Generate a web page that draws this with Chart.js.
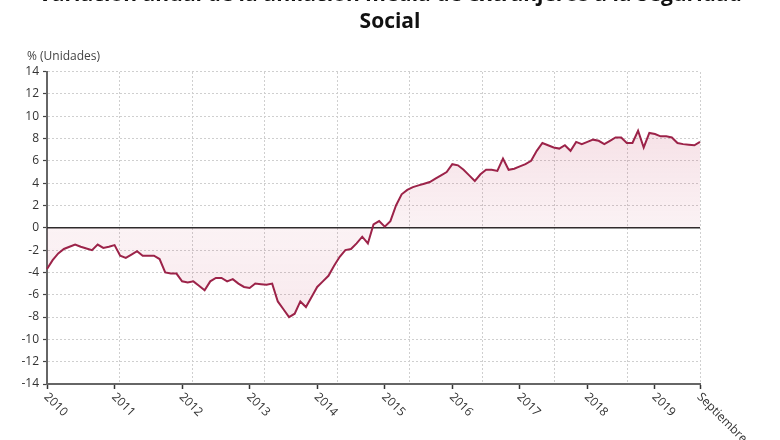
<!DOCTYPE html>
<html lang="es">
<head>
<meta charset="utf-8">
<script src="https://cdn.jsdelivr.net/npm/chart.js@4.4.0/dist/chart.umd.min.js"></script>
<style>
  html, body { margin: 0; padding: 0; background: #fff; overflow: hidden; }
  #caja { position: absolute; left: 0; top: -20px; width: 780px; height: 460px; }
</style>
</head>
<body>
<div id="caja"><canvas id="grafico"></canvas></div>
<script>
// años y meses del eje x (enero 2010 - septiembre 2019)
const anios = [2010, 2011, 2012, 2013, 2014, 2015, 2016, 2017, 2018, 2019];
const nombresMes = ['ene', 'feb', 'mar', 'abr', 'may', 'jun', 'jul', 'ago', 'sep', 'oct', 'nov', 'dic'];
const rotuloFinal = 'Septiembre';

// variación anual (%) de la afiliación media de extranjeros
const variacion = [
  -3.7, -2.9, -2.3, -1.9, -1.7, -1.5, -1.7, -1.85, -2.0, -1.5, -1.8, -1.7,
  -1.55, -2.5, -2.7, -2.4, -2.1, -2.5, -2.5, -2.5, -2.8, -4.0, -4.1, -4.1,
  -4.8, -4.9, -4.8, -5.2, -5.6, -4.8, -4.5, -4.5, -4.8, -4.6, -5.0, -5.3,
  -5.4, -5.0, -5.05, -5.1, -5.0, -6.6, -7.3, -8.0, -7.7, -6.6, -7.1, -6.2,
  -5.3, -4.8, -4.3, -3.4, -2.6, -2.0, -1.9, -1.4, -0.8, -1.4, 0.3, 0.6,
  0.1, 0.6, 2.0, 3.0, 3.4, 3.65, 3.8, 3.95, 4.1, 4.4, 4.7, 5.0,
  5.7, 5.6, 5.2, 4.7, 4.2, 4.8, 5.2, 5.2, 5.1, 6.2, 5.2, 5.3,
  5.5, 5.7, 6.0, 6.9, 7.6, 7.4, 7.2, 7.1, 7.4, 6.9, 7.7, 7.5,
  7.7, 7.9, 7.8, 7.5, 7.8, 8.1, 8.1, 7.6, 7.6, 8.7, 7.2, 8.5,
  8.4, 8.2, 8.2, 8.1, 7.6, 7.5, 7.45, 7.4, 7.7
];

const meses = [];
anios.forEach(a => nombresMes.forEach(m => meses.push(m + ' ' + a)));
meses.length = variacion.length;

function rotulo(i) {
  if (i === meses.length - 1) return rotuloFinal;
  return meses[i].startsWith('ene') ? meses[i].slice(4) : '';
}

const lineaCero = {
  id: 'lineaCero',
  beforeDatasetsDraw(chart) {
    const {ctx, chartArea, scales} = chart;
    const y = scales.y.getPixelForValue(0);
    ctx.save();
    ctx.strokeStyle = '#2b2b2b';
    ctx.lineWidth = 1.6;
    ctx.beginPath();
    ctx.moveTo(chartArea.left, y);
    ctx.lineTo(chartArea.right, y);
    ctx.stroke();
    ctx.restore();
  }
};

// rótulos del eje x girados hacia abajo y "% (Unidades)"
const textos = {
  id: 'textos',
  afterDraw(chart) {
    const {ctx, scales} = chart;
    const sx = scales.x;
    ctx.save();
    ctx.fillStyle = '#333';
    ctx.font = '12px "Open Sans"';
    ctx.textAlign = 'left';
    ctx.textBaseline = 'middle';
    sx.ticks.forEach(t => {
      const px = sx.getPixelForValue(t.value);
      ctx.save();
      ctx.translate(px - 1, sx.top + 11);
      ctx.rotate(Math.PI / 4);
      ctx.fillText(rotulo(t.value), 0, 0);
      ctx.restore();
    });
    ctx.font = '12px "Open Sans"';
    ctx.fillStyle = '#444';
    ctx.fillText('% (Unidades)', 27, 77);
    ctx.restore();
  }
};

function relleno(c) {
  const chart = c.chart;
  const area = chart.chartArea;
  if (!area) return 'rgba(190, 40, 80, 0.08)';
  const y = chart.scales.y;
  const g = chart.ctx.createLinearGradient(0, area.top, 0, area.bottom);
  const pos = v => (y.getPixelForValue(v) - area.top) / (area.bottom - area.top);
  g.addColorStop(pos(9), 'rgba(190, 40, 80, 0.14)');
  g.addColorStop(pos(0), 'rgba(190, 40, 80, 0.06)');
  g.addColorStop(pos(-8), 'rgba(190, 40, 80, 0.10)');
  return g;
}

new Chart(document.getElementById('grafico'), {
  type: 'line',
  data: {
    labels: meses,
    datasets: [{
      label: 'Variación anual',
      data: variacion,
      borderColor: '#9c2349',
      backgroundColor: relleno,
      borderWidth: 2,
      pointRadius: 0,
      tension: 0,
      fill: 'origin'
    }]
  },
  options: {
    responsive: true,
    maintainAspectRatio: false,
    animation: false,
    layout: { padding: { left: 0, right: 0, top: 0, bottom: 51 } },
    scales: {
      x: {
        type: 'category',
        offset: false,
        afterBuildTicks: s => { s.ticks = s.ticks.filter(t => rotulo(t.value) !== ''); },
        afterFit: s => { s.height = 5; },
        ticks: { display: false, autoSkip: false },
        grid: { drawOnChartArea: false, drawTicks: true, tickLength: 5, tickColor: '#333', tickWidth: 1.5 },
        border: { color: '#666', width: 2 }
      },
      xg: {
        type: 'linear',
        position: 'top',
        min: 0,
        max: 9,
        ticks: { display: false, stepSize: 1 },
        grid: { color: '#cfcfcf', lineWidth: 1, drawTicks: false },
        border: { display: false, dash: [2, 2] }
      },
      y: {
        min: -14,
        max: 14,
        afterFit: s => { s.width = 47; },
        ticks: { stepSize: 2, padding: 4, color: '#333', font: { family: 'Open Sans', size: 12 } },
        grid: { color: '#cfcfcf', lineWidth: 1, tickLength: 4, tickColor: '#444', tickWidth: 1.2 },
        border: { color: '#666', width: 2, dash: [2, 2] }
      },
      // margen derecho vacío para que el título quede centrado en el lienzo
      margen: {
        type: 'linear',
        position: 'right',
        min: 0,
        max: 1,
        afterFit: s => { s.width = 80; },
        ticks: { display: false },
        grid: { display: false, drawTicks: false },
        border: { display: false }
      }
    },
    plugins: {
      legend: { display: false },
      tooltip: { enabled: false },
      title: {
        display: true,
        text: ['Variación anual de la afiliación media de extranjeros a la Seguridad', 'Social'],
        color: '#111',
        font: { family: 'Open Sans', size: 21, weight: 'bold', lineHeight: 1.3 },
        padding: { top: 1, bottom: 36 }
      }
    }
  },
  plugins: [lineaCero, textos]
});
</script>
</body>
</html>
